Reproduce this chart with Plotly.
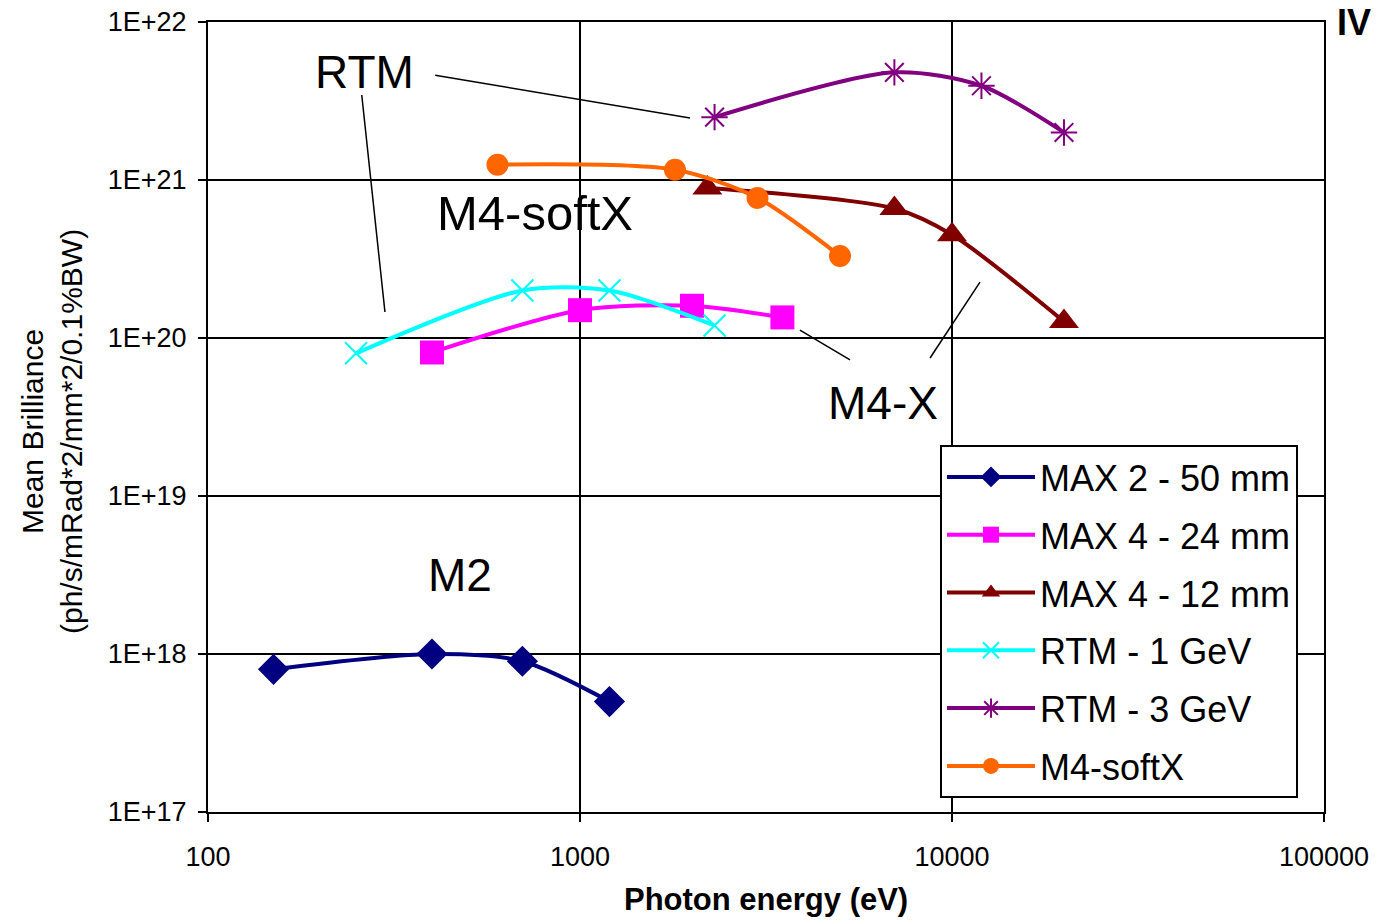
import plotly.graph_objects as go

# ---- data ----
max2_x = [150, 400, 700, 1200]
max2_y = [8e17, 1.0e18, 9e17, 5e17]

max4_24_x = [400, 1000, 2000, 3500]
max4_24_y = [8.1e19, 1.5e20, 1.6e20, 1.35e20]

max4_12_x = [2200, 7000, 10000, 20000]
max4_12_y = [8.9e20, 6.6e20, 4.5e20, 1.27e20]

rtm1_x = [250, 700, 1200, 2300]
rtm1_y = [8.0e19, 2.0e20, 2.0e20, 1.2e20]

rtm3_x = [2300, 7000, 12000, 20000]
rtm3_y = [2.5e21, 4.8e21, 3.95e21, 2.0e21]

softx_x = [600, 1800, 3000, 5000]
softx_y = [1.25e21, 1.16e21, 7.7e20, 3.3e20]

x_tickvals = [100, 1000, 10000, 100000]
x_ticktext = ["100", "1000", "10000", "100000"]
y_tickvals = [1e17, 1e18, 1e19, 1e20, 1e21, 1e22]
y_ticktext = ["1E+17", "1E+18", "1E+19", "1E+20", "1E+21", "1E+22"]

# leader lines for the labels (data coordinates)
rtm_lead1_x = [408, 1976]
rtm_lead1_y = [4.6e21, 2.47e21]
rtm_lead2_x = [259, 299]
rtm_lead2_y = [3.45e21, 1.46e20]
m4x_lead1_x = [3900, 5320]
m4x_lead1_y = [1.12e20, 7.26e19]
m4x_lead2_x = [8730, 11890]
m4x_lead2_y = [7.47e19, 2.26e20]

FONT = "Liberation Sans, Arial, sans-serif"

series = [
    ("MAX 2 - 50 mm", max2_x, max2_y, "#000080", dict(symbol="diamond", size=24)),
    ("MAX 4 - 24 mm", max4_24_x, max4_24_y, "#FF00FF", dict(symbol="square", size=24)),
    ("MAX 4 - 12 mm", max4_12_x, max4_12_y, "#800000", dict(symbol="triangle-up", size=26)),
    ("RTM - 1 GeV", rtm1_x, rtm1_y, "#00FFFF", dict(symbol="x-thin-open", size=22, line=dict(width=2, color="#00FFFF"))),
    ("RTM - 3 GeV", rtm3_x, rtm3_y, "#800080", dict(symbol="asterisk-open", size=22, line=dict(width=2, color="#800080"))),
    ("M4-softX", softx_x, softx_y, "#FF6600", dict(symbol="circle", size=22)),
]

fig = go.Figure()

for i, (name, xs, ys, col, mk) in enumerate(series):
    mk = dict(mk)
    mk.setdefault("color", col)
    fig.add_trace(go.Scatter(
        x=xs, y=ys, name=name, mode="lines+markers",
        line=dict(color=col, width=4, shape="spline", smoothing=0.8),
        marker=mk, legendgroup=f"g{i}",
    ))

for lx, ly in [(rtm_lead1_x, rtm_lead1_y), (rtm_lead2_x, rtm_lead2_y),
               (m4x_lead1_x, m4x_lead1_y), (m4x_lead2_x, m4x_lead2_y)]:
    fig.add_trace(go.Scatter(x=lx, y=ly, mode="lines", showlegend=False,
                             line=dict(color="black", width=1.5), hoverinfo="skip"))

labels = [
    ("RTM", 2.422, 21.684, 46),
    ("M4-softX", 2.879, 20.791, 49),
    ("M2", 2.677, 18.5, 46),
    ("M4-X", 3.815, 19.589, 46),
]
for txt, lx, ly, fs in labels:
    fig.add_annotation(x=lx, y=ly, xref="x", yref="y", text=txt, showarrow=False,
                       xanchor="center", yanchor="middle",
                       font=dict(family=FONT, size=fs, color="black"))

# axis titles
fig.add_annotation(x=0.5, y=(812 - 900) / 790, xref="paper", yref="paper",
                   text="<b>Photon energy (eV)</b>", showarrow=False,
                   xanchor="center", yanchor="middle",
                   font=dict(family=FONT, size=31, color="black"))
fig.add_annotation(x=(52 - 208) / 1116, y=(812 - 432) / 790, xref="paper", yref="paper",
                   text="Mean Brilliance<br>(ph/s/mRad*2/mm*2/0.1%BW)", showarrow=False,
                   textangle=-90, xanchor="center", yanchor="middle",
                   font=dict(family=FONT, size=30, color="black"))
fig.add_annotation(x=(1354 - 208) / 1116, y=(812 - 0) / 790, xref="paper", yref="paper",
                   text="<b>IV</b>", showarrow=False,
                   xanchor="center", yanchor="top",
                   font=dict(family=FONT, size=36, color="black"))

fig.update_layout(
    width=1376, height=922,
    margin=dict(l=208, r=52, t=22, b=110),
    paper_bgcolor="white", plot_bgcolor="white",
    font=dict(family=FONT, color="black"),
    showlegend=True,
    legend=dict(
        x=(940 - 208) / 1116, y=(812 - 445) / 790, xanchor="left", yanchor="top",
        bgcolor="white", bordercolor="black", borderwidth=2,
        font=dict(family=FONT, size=36, color="black"),
        traceorder="grouped", tracegroupgap=8,
        itemwidth=88,
    ),
)
fig.update_xaxes(
    type="log", range=[2, 5], automargin=False,
    tickvals=x_tickvals, ticktext=x_ticktext,
    tickfont=dict(family=FONT, size=27, color="black"),
    ticklabelstandoff=12,
    showgrid=True, gridcolor="black", gridwidth=2,
    showline=True, linecolor="black", linewidth=2, mirror=True,
    ticks="outside", ticklen=8, tickcolor="black", tickwidth=2,
    zeroline=False,
)
fig.update_yaxes(
    type="log", range=[17, 22], automargin=False,
    tickvals=y_tickvals, ticktext=y_ticktext,
    tickfont=dict(family=FONT, size=27, color="black"),
    ticklabelstandoff=6,
    showgrid=True, gridcolor="black", gridwidth=2,
    showline=True, linecolor="black", linewidth=2, mirror=True,
    ticks="outside", ticklen=8, tickcolor="black", tickwidth=2,
    zeroline=False,
)

fig.write_html("out.html")
